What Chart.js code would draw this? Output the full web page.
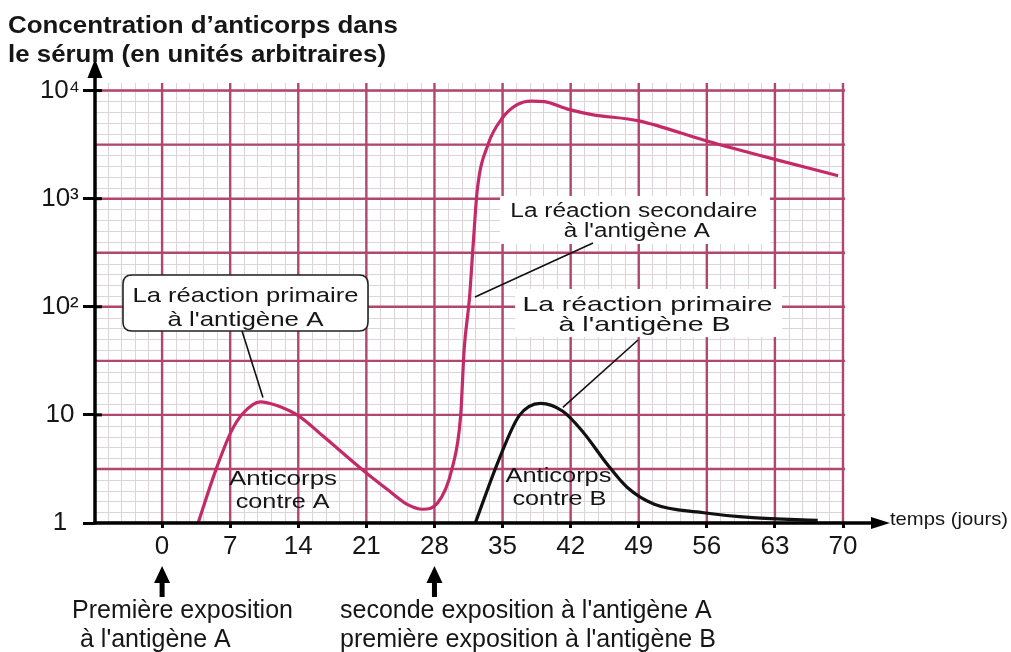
<!DOCTYPE html>
<html>
<head>
<meta charset="utf-8">
<script src="https://cdn.jsdelivr.net/npm/chart.js@4"></script>
<style>
  html, body { margin: 0; padding: 0; background: #ffffff; }
  canvas { display: block; }
</style>
</head>
<body>
<canvas id="c" width="1011" height="652"></canvas>
<script>
// ---------- DATA ----------
const xTickLabels = ['0', '7', '14', '21', '28', '35', '42', '49', '56', '63', '70'];
const yTickValues = [1, 10, 100, 1000, 10000];
const yTickLabels = ['1', '10', '10²', '10³', '10⁴'];

// Anticorps contre A (days, concentration)
const daysA   = [3.7, 5.5, 7.1, 8.3, 10.1, 11.8, 14.1, 16.6, 20.9, 23.3, 25.3, 26.8, 28.3, 29.8, 30.7, 31.05, 31.6, 32.0, 32.4, 33.5, 35.0, 36.5, 37.9, 39.3, 41.8, 44.2, 49.0, 56.0, 63.0, 69.5];
const valuesA = [1, 3.05, 7.0, 10.3, 13.2, 12.2, 9.7, 6.3, 2.95, 2.0, 1.47, 1.34, 1.52, 3.16, 10, 40, 120, 400, 1200, 3160, 5600, 7400, 8000, 7900, 6700, 6000, 5250, 3420, 2310, 1630];

// Anticorps contre B
const daysB   = [32.2, 34.6, 36.7, 38.9, 41.2, 43.35, 45.7, 47.8, 50.6, 55.5, 60.7, 67.4];
const valuesB = [1, 3.8, 9.8, 12.8, 10.8, 6.8, 3.55, 2.14, 1.49, 1.25, 1.12, 1.06];

// ---------- STYLE ----------
const FONT = '"Liberation Sans", Arial, Helvetica, sans-serif';
const INK = '#161616';
const X_MIN = -7, X_MAX = 70;
const Y_MIN = 1, Y_MAX = Math.pow(10, 4.07);

function drawText(ctx, s, x, y, size, opts = {}) {
  ctx.save();
  ctx.font = (opts.bold ? 'bold ' : '') + size + 'px ' + FONT;
  const w = ctx.measureText(s).width;
  const sx = opts.width ? opts.width / w : 1;
  ctx.translate(x, y);
  ctx.scale(sx, 1);
  ctx.textAlign = opts.align || 'left';
  ctx.textBaseline = 'alphabetic';
  ctx.fillStyle = INK;
  ctx.fillText(s, 0, 0);
  ctx.restore();
}
function seg(ctx, x1, y1, x2, y2) {
  ctx.beginPath(); ctx.moveTo(x1, y1); ctx.lineTo(x2, y2); ctx.stroke();
}
function roundRect(ctx, x, y, w, h, r) {
  ctx.beginPath();
  ctx.moveTo(x + r, y);
  ctx.lineTo(x + w - r, y); ctx.quadraticCurveTo(x + w, y, x + w, y + r);
  ctx.lineTo(x + w, y + h - r); ctx.quadraticCurveTo(x + w, y + h, x + w - r, y + h);
  ctx.lineTo(x + r, y + h); ctx.quadraticCurveTo(x, y + h, x, y + h - r);
  ctx.lineTo(x, y + r); ctx.quadraticCurveTo(x, y, x + r, y);
  ctx.closePath();
}

// graph-paper grid + label backgrounds, drawn under the curves
const paperPlugin = {
  id: 'paper',
  beforeDatasetsDraw(chart) {
    const { ctx, chartArea: a, scales: { x, y } } = chart;
    const X = d => x.getPixelForValue(d);
    const Y = lv => y.getPixelForValue(Math.pow(10, lv));
    ctx.save();
    ctx.beginPath(); ctx.rect(a.left, a.top, a.right - a.left + 2, a.bottom - a.top); ctx.clip();
    // minor grid
    ctx.strokeStyle = '#dcd4d8'; ctx.lineWidth = 1;
    for (let i = 0; i <= 55; i++) { const px = Math.round(X(X_MIN + i * 1.4)) + 0.5; seg(ctx, px, a.top, px, a.bottom); }
    for (let k = 0; k <= 41; k++) { const py = Math.round(Y(k / 10)) + 0.5; seg(ctx, a.left, py, a.right, py); }
    // major grid
    ctx.strokeStyle = '#b1466f'; ctx.lineWidth = 2.4;
    for (let d = X_MIN; d <= X_MAX; d += 7) { const px = X(d); seg(ctx, px, a.top, px, a.bottom); }
    for (let k = 0; k <= 8; k++) { const py = Y(k / 2); seg(ctx, a.left, py, a.right + 2, py); }
    ctx.restore();

    ctx.save();
    // white background behind free labels
    ctx.fillStyle = '#ffffff';
    ctx.fillRect(X(34.74), Y(3.025), X(62.5) - X(34.74), Y(2.581) - Y(3.025));
    ctx.fillRect(X(36.28), Y(2.165), X(63.73) - X(36.28), Y(1.72) - Y(2.165));
    // rounded box for primary response A
    roundRect(ctx, X(-4.02), Y(2.294), X(21.17) - X(-4.02), Y(1.776) - Y(2.294), 9);
    ctx.fill();
    ctx.strokeStyle = '#222'; ctx.lineWidth = 1.6; ctx.stroke();
    ctx.restore();
  }
};

// axes, arrows, annotations and texts
const annotPlugin = {
  id: 'annot',
  afterDraw(chart) {
    const { ctx, chartArea: a, scales: { x, y } } = chart;
    const X = d => x.getPixelForValue(d);
    const Y = lv => y.getPixelForValue(Math.pow(10, lv));
    ctx.save();
    ctx.strokeStyle = '#000'; ctx.fillStyle = '#000';

    // leader lines
    ctx.lineWidth = 1.6; ctx.strokeStyle = '#111';
    seg(ctx, X(8.22), Y(1.776), X(10.37), Y(1.16));
    seg(ctx, X(32.17), Y(2.091), X(44.3), Y(2.59));
    seg(ctx, X(41.2), Y(1.07), X(48.93), Y(1.693));

    // axes
    ctx.strokeStyle = '#000'; ctx.lineWidth = 3.5;
    const ax = a.left + 1, ay = a.bottom;
    seg(ctx, ax, ay + 1.5, ax, 74);
    seg(ctx, ax - 1.5, ay, 876, ay);
    ctx.beginPath(); ctx.moveTo(ax, 59); ctx.lineTo(ax - 7.5, 78); ctx.lineTo(ax + 7.5, 78); ctx.closePath(); ctx.fill();
    ctx.beginPath(); ctx.moveTo(890, ay); ctx.lineTo(871, ay - 6); ctx.lineTo(871, ay + 6); ctx.closePath(); ctx.fill();
    // inner part of y tick dashes
    ctx.lineWidth = 3;
    for (const v of yTickValues) { const py = y.getPixelForValue(v); if (v > 1) seg(ctx, ax, py, ax + 7, py); }

    // up arrows under the time axis
    for (const d of [0, 28]) {
      const px = X(d);
      ctx.lineWidth = 5; seg(ctx, px, 578, px, 597);
      ctx.beginPath(); ctx.moveTo(px, 566); ctx.lineTo(px - 8, 583); ctx.lineTo(px + 8, 583); ctx.closePath(); ctx.fill();
    }

    // texts inside the plot
    drawText(ctx, 'La réaction primaire', X(8.57), Y(2.044), 21, { align: 'center', width: 226 });
    drawText(ctx, "à l'antigène A", X(8.57), Y(1.822), 21, { align: 'center', width: 156 });
    drawText(ctx, 'La réaction secondaire', X(48.5), Y(2.826), 20, { align: 'center', width: 247 });
    drawText(ctx, "à l'antigène A", X(48.8), Y(2.641), 20, { align: 'center', width: 146 });
    drawText(ctx, 'La réaction primaire', X(49.9), Y(1.961), 21, { align: 'center', width: 250 });
    drawText(ctx, "à l'antigène B", X(49.6), Y(1.776), 21, { align: 'center', width: 172 });
    drawText(ctx, 'Anticorps', X(12.43), Y(0.352), 21, { align: 'center', width: 108 });
    drawText(ctx, 'contre A', X(12.4), Y(0.139), 21, { align: 'center', width: 94 });
    drawText(ctx, 'Anticorps', X(40.75), Y(0.379), 21, { align: 'center', width: 106 });
    drawText(ctx, 'contre B', X(40.85), Y(0.1665), 21, { align: 'center', width: 94 });

    // axis titles and captions
    drawText(ctx, "Concentration d’anticorps dans", 8, 33, 24, { bold: true, width: 390 });
    drawText(ctx, 'le sérum (en unités arbitraires)', 8, 62, 24, { bold: true, width: 378 });
    drawText(ctx, 'temps (jours)', 890, 525, 19, { width: 118 });
    drawText(ctx, 'Première exposition', 72, 618, 25);
    drawText(ctx, "à l'antigène A", 80, 647, 25);
    drawText(ctx, "seconde exposition à l'antigène A", 340, 618, 25);
    drawText(ctx, "première exposition à l'antigène B", 340, 647, 25);
    ctx.restore();
  }
};

new Chart(document.getElementById('c'), {
  type: 'line',
  data: {
    datasets: [
      {
        label: 'Anticorps contre A',
        data: daysA.map((d, i) => ({ x: d, y: valuesA[i] })),
        borderColor: '#c42a68', borderWidth: 3.2, pointRadius: 0,
        cubicInterpolationMode: 'monotone', fill: false
      },
      {
        label: 'Anticorps contre B',
        data: daysB.map((d, i) => ({ x: d, y: valuesB[i] })),
        borderColor: '#111111', borderWidth: 3.2, pointRadius: 0,
        cubicInterpolationMode: 'monotone', fill: false
      }
    ]
  },
  options: {
    responsive: false,
    animation: false,
    devicePixelRatio: 1,
    layout: { padding: { left: 0, top: 83, right: 168, bottom: 0 } },
    plugins: { legend: { display: false }, tooltip: { enabled: false }, title: { display: false } },
    scales: {
      x: {
        type: 'linear', min: X_MIN, max: X_MAX,
        afterBuildTicks: s => { s.ticks = xTickLabels.map(t => ({ value: Number(t) })); },
        afterFit: s => { s.height = 129; },
        border: { display: false },
        grid: { drawOnChartArea: false, drawTicks: true, tickLength: 5, tickColor: '#000', tickWidth: 3 },
        ticks: {
          autoSkip: false, maxRotation: 0, padding: 3, color: INK,
          font: { family: FONT, size: 26 },
          callback: v => xTickLabels[xTickLabels.indexOf(String(v))]
        }
      },
      y: {
        type: 'logarithmic', min: Y_MIN, max: Y_MAX,
        afterBuildTicks: s => { s.ticks = yTickValues.map(v => ({ value: v })); },
        afterFit: s => { s.width = 94; },
        border: { display: false },
        grid: { drawOnChartArea: false, drawTicks: true, tickLength: 11, tickColor: '#000', tickWidth: 3 },
        ticks: {
          autoSkip: false, padding: 3, crossAlign: 'center', color: INK,
          font: { family: FONT, size: 26 },
          callback: v => yTickLabels[yTickValues.indexOf(v)]
        }
      }
    }
  },
  plugins: [paperPlugin, annotPlugin]
});
</script>
</body>
</html>
